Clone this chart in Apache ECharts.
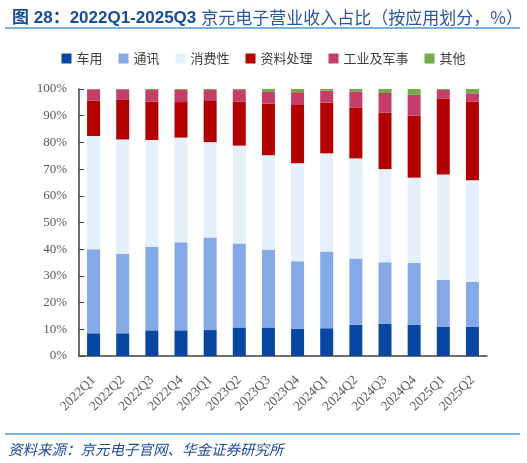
<!DOCTYPE html>
<html><head><meta charset="utf-8">
<script src="https://cdn.jsdelivr.net/npm/echarts@6/dist/echarts.min.js"></script>
<style>html,body{margin:0;padding:0;background:#fff;}#c{width:527px;height:463px;}</style>
</head><body><div id="c"></div>
<script>
var categories = ['2022Q1','2022Q2','2022Q3','2022Q4','2023Q1','2023Q2','2023Q3','2023Q4','2024Q1','2024Q2','2024Q3','2024Q4','2025Q1','2025Q2'];
var seriesNames = ['车用','通讯','消费性','资料处理','工业及军事','其他'];
var car      = [8.5, 8.5, 9.6, 9.6, 9.7, 10.7, 10.7, 10.2, 10.4, 11.7, 12.0, 11.7, 11.0, 11.0];
var telecom  = [31.5, 29.8, 31.3, 33.0, 34.7, 31.4, 29.1, 25.3, 28.7, 24.8, 23.1, 23.1, 17.5, 16.8];
var consumer = [42.4, 42.8, 40.0, 39.2, 35.7, 36.7, 35.4, 36.7, 36.8, 37.5, 34.9, 32.0, 39.5, 38.0];
var dataProc = [13.2, 14.8, 14.4, 13.3, 15.4, 16.5, 19.3, 21.8, 19.0, 19.1, 21.1, 23.2, 28.4, 29.5];
var industry = [4.3, 4.0, 4.3, 4.5, 4.1, 4.3, 4.4, 4.8, 4.5, 6.0, 7.4, 7.8, 3.2, 3.1];
var other    = [0.1, 0.1, 0.4, 0.4, 0.4, 0.4, 1.1, 1.2, 0.6, 0.9, 1.5, 2.2, 0.4, 1.6];
var yTicks = ['0%','10%','20%','30%','40%','50%','60%','70%','80%','90%','100%'];

var colors = ['#0747A1','#84A9E6','#E5F0FD','#B30000','#C43E68','#70AD47'];
var allData = [car, telecom, consumer, dataProc, industry, other];

var chart = echarts.init(document.getElementById('c'));
var series = seriesNames.map(function(n, i){
  return {name: n, type: 'bar', stack: 'total', barWidth: 13, data: allData[i],
    itemStyle: {color: colors[i]}};
});
chart.setOption({
  animation: false,
  title: {
    left: 7, top: 4,
    text: '{a|图 28：2022Q1-2025Q3} {b|京元电子营业收入占比（按应用划分，%）}',
    textStyle: {rich: {
      a: {fontFamily: 'Liberation Sans, Noto Sans CJK SC', fontSize: 17, color: '#1B4A9B', fontWeight: 'bold'},
      b: {fontFamily: 'Noto Sans CJK SC', fontSize: 17, color: '#2A569F', fontWeight: 'normal'}
    }}
  },
  legend: {
    top: 47, left: 'center',
    itemWidth: 10, itemHeight: 10, itemGap: 16,
    icon: 'rect',
    textStyle: {fontFamily: 'Noto Sans CJK SC', fontSize: 13, color: '#404040'},
    data: seriesNames
  },
  grid: {left: 79, right: 40, top: 89, bottom: 107},
  xAxis: {
    type: 'category', data: categories,
    axisLine: {lineStyle: {color: '#404040', width: 1.5}},
    axisTick: {show: false},
    axisLabel: {rotate: 45, interval: 0, fontFamily: 'Liberation Serif', fontSize: 13.5, color: '#595959', margin: 22}
  },
  yAxis: {
    type: 'value', min: 0, max: 100, interval: 10,
    axisLine: {show: true, lineStyle: {color: '#404040', width: 1.5}},
    axisTick: {show: true, inside: true, length: 5, lineStyle: {color: '#404040'}},
    splitLine: {show: false},
    axisLabel: {fontFamily: 'Liberation Serif', fontSize: 13, color: '#595959', margin: 12,
      formatter: function(v){ return yTicks[Math.round(v/10)]; }}
  },
  graphic: [
    {type: 'line', shape: {x1: 5, y1: 28, x2: 520, y2: 28}, style: {stroke: '#4A9AD8', lineWidth: 1.5}},
    {type: 'line', shape: {x1: 5, y1: 434, x2: 520, y2: 434}, style: {stroke: '#4A9AD8', lineWidth: 1.5}},
    {type: 'text', left: 8, top: 442, style: {text: '资料来源：京元电子官网、华金证券研究所', fill: '#1B4A9B',
      font: 'italic 14.5px "Noto Sans CJK SC"'}}
  ],
  series: series
});
</script></body></html>
